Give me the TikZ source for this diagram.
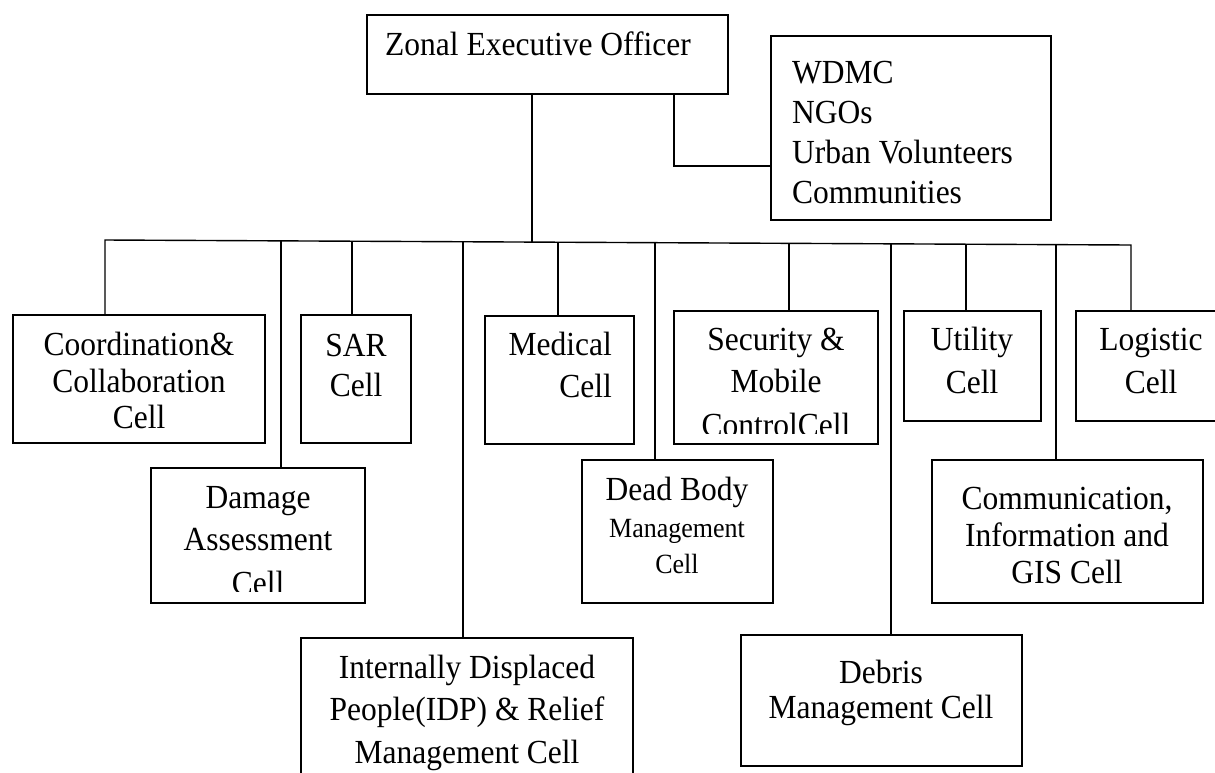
\documentclass[tikz,border=0pt]{standalone}
\usepackage{fontspec}
\usepackage{graphicx}
\setmainfont{Liberation Serif}
\usetikzlibrary{fit}
\newcommand{\vstretch}[1]{\scalebox{1}[1.07]{#1}}
\begin{document}
\begin{tikzpicture}[x=1pt,y=-1pt,
  box/.style={draw, line width=1.4pt, inner sep=0pt, outer sep=0pt},
  txt/.style={font=\fontsize{31.5}{38}\selectfont, anchor=base, inner sep=0pt},
  stxt/.style={font=\fontsize{26}{31}\selectfont, anchor=base, inner sep=0pt},
  link/.style={line width=1.4pt}]
\useasboundingbox (0,0) rectangle (1215,772);
\fill[white] (0,0) rectangle (1215,772);

% boxes
\node[box, fit={(367,15) (728,94)}] (zeo) {};
\node[box, fit={(771,36) (1051,220)}] (ext) {};
\node[box, fit={(13,315) (265,443)}] (coord) {};
\node[box, fit={(151,468) (365,603)}] (dam) {};
\node[box, fit={(301,315) (411,443)}] (sar) {};
\node[box, fit={(301,638) (633,800)}] (idp) {};
\node[box, fit={(485,316) (634,444)}] (med) {};
\node[box, fit={(582,460) (773,603)}] (dead) {};
\node[box, fit={(674,311) (878,444)}] (sec) {};
\node[box, fit={(741,635) (1022,766)}] (deb) {};
\node[box, fit={(904,311) (1041,421)}] (util) {};
\node[box, fit={(932,460) (1203,603)}] (comm) {};
\node[box, fit={(1076,311) (1240,421)}] (logi) {};

% bus taps
\coordinate (t1) at (105,240);
\coordinate (t2) at (281,240.9);
\coordinate (t3) at (352,241.2);
\coordinate (t4) at (463,241.7);
\coordinate (tz) at (532,242.1);
\coordinate (t5) at (558,242.2);
\coordinate (t6) at (655,242.7);
\coordinate (t7) at (789,243.3);
\coordinate (t8) at (891,243.8);
\coordinate (t9) at (966,244.2);
\coordinate (t10) at (1056,244.6);
\coordinate (t11) at (1131,245);
\coordinate (zw) at (674,166);

% connectors
\draw[link] (coord.north -| t1) -- (t1) -- (t11) -- (logi.north -| t11);
\draw[link] (zeo.south -| tz) -- (tz);
\draw[link] (zeo.south -| zw) -- (zw) -- (zw -| ext.west);
\draw[link] (t2) -- (t2 |- dam.north);
\draw[link] (t3) -- (t3 |- sar.north);
\draw[link] (t4) -- (t4 |- idp.north);
\draw[link] (t5) -- (t5 |- med.north);
\draw[link] (t6) -- (t6 |- dead.north);
\draw[link] (t7) -- (t7 |- sec.north);
\draw[link] (t8) -- (t8 |- deb.north);
\draw[link] (t9) -- (t9 |- util.north);
\draw[link] (t10) -- (t10 |- comm.north);

% texts
\node[txt, anchor=base west] (zeoT) at (385,55) {\vstretch{Zonal Executive Officer}};

\node[txt, anchor=base west] (extT1) at (792,83) {\vstretch{WDMC}};
\node[txt, anchor=base west] (extT2) at (792,123) {\vstretch{NGOs}};
\node[txt, anchor=base west] (extT3) at (792,163) {\vstretch{Urban Volunteers}};
\node[txt, anchor=base west] (extT4) at (792,203) {\vstretch{Communities}};

\node[txt] (coordT1) at (139,355) {\vstretch{Coordination\&}};
\node[txt] (coordT2) at (139,392) {\vstretch{Collaboration}};
\node[txt] (coordT3) at (139,428) {\vstretch{Cell}};

\node[txt] (sarT1) at (356,356) {\vstretch{SAR}};
\node[txt] (sarT2) at (356,396) {\vstretch{Cell}};

\node[txt, anchor=base east] (medT1) at (612,355) {\vstretch{Medical}};
\node[txt, anchor=base east] (medT2) at (612,397) {\vstretch{Cell}};

\node[txt] (secT1) at (776,350) {\vstretch{Security \&}};
\node[txt] (secT2) at (776,392) {\vstretch{Mobile}};
\begin{scope}
\clip (674,311) rectangle (878,433);
\node[txt] (secT3) at (776,436) {\vstretch{ControlCell}};
\end{scope}

\node[txt] (utilT1) at (972,350) {\vstretch{Utility}};
\node[txt] (utilT2) at (972,393) {\vstretch{Cell}};

\node[txt] (logiT1) at (1151,350) {\vstretch{Logistic}};
\node[txt] (logiT2) at (1151,393) {\vstretch{Cell}};

\node[txt] (damT1) at (258,508) {\vstretch{Damage}};
\node[txt] (damT2) at (258,550) {\vstretch{Assessment}};
\begin{scope}
\clip (151,468) rectangle (365,591);
\node[txt] (damT3) at (258,594) {\vstretch{Cell}};
\end{scope}

\node[txt] (deadT1) at (677,500) {\vstretch{Dead Body}};
\node[stxt] (deadT2) at (677,537) {\vstretch{Management}};
\node[stxt] (deadT3) at (677,573) {\vstretch{Cell}};

\node[txt] (commT1) at (1067,509) {\vstretch{Communication,}};
\node[txt] (commT2) at (1067,546) {\vstretch{Information and}};
\node[txt] (commT3) at (1067,583) {\vstretch{GIS Cell}};

\node[txt] (idpT1) at (467,678) {\vstretch{Internally Displaced}};
\node[txt] (idpT2) at (467,720) {\vstretch{People(IDP) \& Relief}};
\node[txt] (idpT3) at (467,763) {\vstretch{Management Cell}};

\node[txt] (debT1) at (881,683) {\vstretch{Debris}};
\node[txt] (debT2) at (881,718) {\vstretch{Management Cell}};
\end{tikzpicture}
\end{document}
